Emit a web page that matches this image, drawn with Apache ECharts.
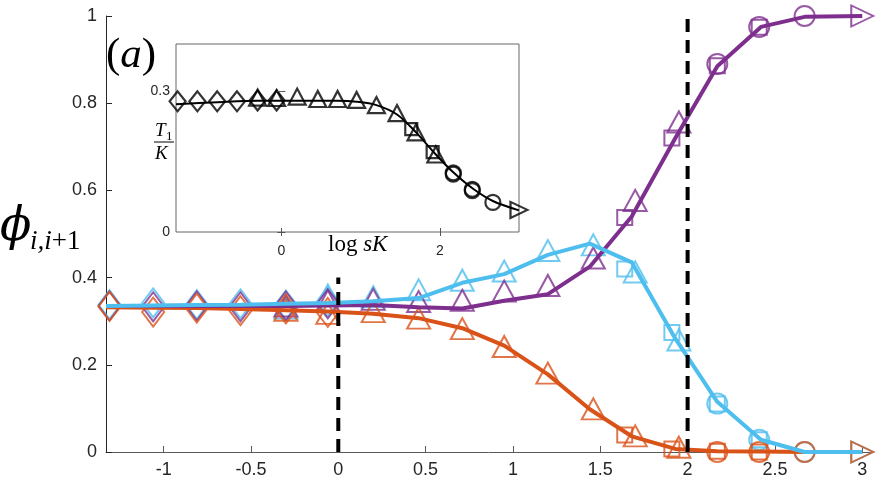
<!DOCTYPE html>
<html>
<head>
<meta charset="utf-8">
<script src="https://cdn.jsdelivr.net/npm/echarts@6/dist/echarts.min.js"></script>
<style>
  html, body { margin: 0; padding: 0; background: #fff; }
  #main { width: 884px; height: 486px; }
</style>
</head>
<body>
<div id="main"></div>
<script>
// x positions (log sK) of each marker family
const diamondX = [-1.31, -1.06, -0.81, -0.56, -0.30, -0.06];
const triangleX = [-0.30, -0.06, 0.20, 0.46, 0.71, 0.95, 1.20, 1.46, 1.70, 1.95];
const squareX = [1.64, 1.91, 2.17, 2.41];
const circleX = [2.17, 2.41, 2.67];
const endX = [3.0];
const lineX = [-1.33, -1.06, -0.81, -0.56, -0.30, -0.06, 0.20, 0.46, 0.71, 0.95, 1.20, 1.44, 1.68, 1.93, 2.17, 2.42, 2.67, 3.0];

// main panel: phi_{i,i+1}
const purpleLine = [0.335, 0.335, 0.335, 0.335, 0.335, 0.336, 0.337, 0.332, 0.329, 0.347, 0.362, 0.425, 0.54, 0.72, 0.885, 0.975, 0.998, 1.0];
const purpleDiamond = [0.335, 0.333, 0.335, 0.333, 0.335, 0.34];
const purpleTriangle = [0.335, 0.347, 0.35, 0.345, 0.348, 0.369, 0.382, 0.445, 0.577, 0.757];
const purpleSquare = [0.538, 0.72, 0.886, 0.974];
const purpleCircle = [0.89, 0.975, 1.0];
const purpleEnd = [1.0];

const blueLine = [0.335, 0.336, 0.337, 0.338, 0.34, 0.342, 0.346, 0.353, 0.388, 0.408, 0.452, 0.478, 0.435, 0.26, 0.115, 0.028, 0.0, 0.0];
const blueDiamond = [0.338, 0.342, 0.338, 0.34, 0.337, 0.345];
const blueTriangle = [0.33, 0.36, 0.356, 0.372, 0.394, 0.415, 0.462, 0.475, 0.413, 0.257];
const blueSquare = [0.42, 0.274, 0.11, 0.028];
const blueCircle = [0.111, 0.028, 0.0];
const blueEnd = [0.0];

const orangeLine = [0.332, 0.331, 0.33, 0.328, 0.325, 0.322, 0.317, 0.307, 0.284, 0.244, 0.178, 0.098, 0.036, 0.007, 0.002, 0.001, 0.0, 0.0];
const orangeDiamond = [0.334, 0.321, 0.33, 0.324, 0.328, 0.32];
const orangeTriangle = [0.325, 0.318, 0.322, 0.307, 0.283, 0.242, 0.181, 0.099, 0.037, 0.011];
const orangeSquare = [0.039, 0.007, 0.002, 0.0];
const orangeCircle = [0.0, 0.0, 0.0];
const orangeEnd = [0.0];

// dashed guide lines
const guideX = [0, 2];
const guideTop = [0.4, 1.0];

// inset: T1/K
const insetLineX = [-1.33, -0.81, -0.30, 0.20, 0.71, 0.95, 1.20, 1.46, 1.70, 1.95, 2.17, 2.42, 2.67, 3.0];
const insetLine = [0.272, 0.276, 0.279, 0.279, 0.279, 0.277, 0.27, 0.25, 0.212, 0.165, 0.127, 0.092, 0.066, 0.046];
const insetDiamond = [0.278, 0.278, 0.278, 0.278, 0.28, 0.28];
const insetTriangle = [0.286, 0.285, 0.288, 0.283, 0.283, 0.281, 0.27, 0.253, 0.212, 0.165];
const insetSquareX = [1.64, 1.91];
const insetSquare = [0.219, 0.17];
const insetCircle = [0.126, 0.091, 0.063];
const insetCircleB = [0.123, 0.088];
const insetEnd = [0.047];

// tick labels
const mainXTicks = [-1, -0.5, 0, 0.5, 1, 1.5, 2, 2.5, 3];
const insetXTicks = [0, 2];
const insetYTicks = [0, 0.3];

const PURPLE = '#7E2F8E', BLUE = '#4DBEEE', ORANGE = '#D95319';

function zip(xs, ys) { return xs.map((x, i) => [x, ys[i]]); }

function line(xs, ys, color, width, gi, z, smooth) {
  return {
    type: 'line', xAxisIndex: gi, yAxisIndex: gi, data: zip(xs, ys),
    symbol: 'none', showSymbol: false, smooth: smooth || false,
    lineStyle: { color: color, width: width }, z: z, silent: true
  };
}

function mark(xs, ys, symbol, size, color, gi, z, rotate, bw) {
  return {
    type: 'scatter', xAxisIndex: gi, yAxisIndex: gi, data: zip(xs, ys),
    symbol: symbol, symbolSize: size, symbolRotate: rotate || 0, clip: false,
    itemStyle: { color: 'rgba(0,0,0,0)', borderColor: color, borderWidth: bw || 2 },
    z: z, silent: true
  };
}

function family(col, d, t, s, c, e, z) {
  return [
    mark(diamondX, d, 'diamond', [22, 29], col, 0, z),
    mark(triangleX, t, 'triangle', [23, 21], col, 0, z),
    mark(squareX, s, 'rect', [15, 15], col, 0, z),
    mark(circleX, c, 'circle', [20, 20], col, 0, z),
    mark(endX, e, 'triangle', [21, 22], col, 0, z, -90)
  ];
}

const series = [].concat(
  family(BLUE, blueDiamond, blueTriangle, blueSquare, blueCircle, blueEnd, 2),
  family(PURPLE, purpleDiamond, purpleTriangle, purpleSquare, purpleCircle, purpleEnd, 3),
  family(ORANGE, orangeDiamond, orangeTriangle, orangeSquare, orangeCircle, orangeEnd, 4),
  [
    line(lineX, orangeLine, ORANGE, 4, 0, 5),
    line(lineX, purpleLine, PURPLE, 4, 0, 6),
    line(lineX, blueLine, BLUE, 4, 0, 7)
  ],
  guideX.map((x, i) => ({
    type: 'line', xAxisIndex: 0, yAxisIndex: 0, data: [[x, 0], [x, guideTop[i]]],
    symbol: 'none', lineStyle: { color: '#000', width: 4, type: [13, 8] }, z: 8, silent: true
  })),
  [
    line(insetLineX, insetLine, '#000', 2, 1, 10, 0.3),
    mark(diamondX, insetDiamond, 'diamond', [16, 20], '#000', 1, 11, 0, 2.2),
    mark(triangleX, insetTriangle, 'triangle', [17, 16], '#000', 1, 11, 0, 2.2),
    mark(insetSquareX, insetSquare, 'rect', [12, 12], '#000', 1, 11, 0, 2.2),
    mark(circleX, insetCircle, 'circle', [15, 15], '#000', 1, 11, 0, 2.2),
    mark(circleX.slice(0, 2), insetCircleB, 'circle', [15, 15], '#000', 1, 11, 0, 2.2),
    mark(endX, insetEnd, 'triangle', [16, 17], '#000', 1, 11, -90, 2.2)
  ]
);

const labelFont = { fontFamily: 'Liberation Sans', color: '#262626' };

const myChart = echarts.init(document.getElementById('main'), null, { renderer: 'canvas' });
myChart.setOption({
  animation: false,
  backgroundColor: '#fff',
  grid: [
    { left: 106, right: 13, top: 16, bottom: 34 },
    { left: 176, right: 365, top: 44, bottom: 254, show: true, backgroundColor: '#fff', borderColor: '#666', borderWidth: 1, z: 9 }
  ],
  xAxis: [
    {
      gridIndex: 0, type: 'value', min: -1.33, max: 3.05,
      axisLine: { show: true, lineStyle: { color: '#5a5a5a', width: 1 } },
      axisTick: { show: true, inside: true, length: 6, customValues: mainXTicks, lineStyle: { color: '#5a5a5a' } },
      axisLabel: Object.assign({ customValues: mainXTicks, fontSize: 18, margin: 9, formatter: v => String(v) }, labelFont),
      splitLine: { show: false }
    },
    {
      gridIndex: 1, type: 'value', min: -1.33, max: 3.0, position: 'bottom', z: 12,
      axisLine: { show: false },
      axisTick: { show: true, inside: true, length: 4, customValues: insetXTicks, lineStyle: { color: '#555' } },
      axisLabel: Object.assign({ customValues: insetXTicks, fontSize: 14, margin: 12, formatter: v => String(v) }, labelFont),
      splitLine: { show: false }
    },
    {
      gridIndex: 1, type: 'value', min: -1.33, max: 3.0, position: 'top', z: 12,
      axisLine: { show: false },
      axisTick: { show: true, inside: true, length: 4, customValues: insetXTicks, lineStyle: { color: '#555' } },
      axisLabel: { show: false },
      splitLine: { show: false }
    }
  ],
  yAxis: [
    {
      gridIndex: 0, type: 'value', min: 0, max: 1, interval: 0.2,
      axisLine: { show: true, onZero: false, lineStyle: { color: '#262626', width: 1 } },
      axisTick: { show: true, inside: true, length: 6, lineStyle: { color: '#262626' } },
      axisLabel: Object.assign({ fontSize: 18, margin: 9 }, labelFont),
      splitLine: { show: false }
    },
    {
      gridIndex: 1, type: 'value', min: 0, max: 0.4, position: 'left', z: 12,
      axisLine: { show: false },
      axisTick: { show: true, inside: true, length: 4, customValues: insetYTicks, lineStyle: { color: '#555' } },
      axisLabel: Object.assign({ customValues: insetYTicks, fontSize: 14, margin: 6, formatter: v => String(v) }, labelFont),
      splitLine: { show: false }
    },
    {
      gridIndex: 1, type: 'value', min: 0, max: 0.4, position: 'right', z: 12,
      axisLine: { show: false },
      axisTick: { show: true, inside: true, length: 4, customValues: insetYTicks, lineStyle: { color: '#555' } },
      axisLabel: { show: false },
      splitLine: { show: false }
    }
  ],
  graphic: [
    {
      type: 'text', x: 106, y: 34, z: 20,
      style: {
        text: '{p|(}{i|a}{p|)}',
        rich: {
          p: { fontFamily: 'Liberation Serif', fontSize: 43, fill: '#000' },
          i: { fontFamily: 'Liberation Serif', fontStyle: 'italic', fontSize: 43, fill: '#000' }
        }
      }
    },
    {
      type: 'text', x: 0, y: 205, z: 20,
      style: { text: 'ϕ', fontFamily: 'DejaVu Serif', fontStyle: 'italic', fontSize: 46, fill: '#000' }
    },
    {
      type: 'text', x: 30, y: 228, z: 20,
      style: {
        text: '{i|i,i}{u|+1}',
        rich: {
          i: { fontFamily: 'Liberation Serif', fontStyle: 'italic', fontSize: 27, fill: '#000' },
          u: { fontFamily: 'Liberation Serif', fontSize: 27, fill: '#000' }
        }
      }
    },
    {
      type: 'text', x: 155, y: 121, z: 20,
      style: { text: 'T', fontFamily: 'Liberation Serif', fontStyle: 'italic', fontSize: 19, fill: '#000' }
    },
    {
      type: 'text', x: 166, y: 130, z: 20,
      style: { text: '1', fontFamily: 'Liberation Serif', fontSize: 13, fill: '#000' }
    },
    {
      type: 'line', z: 20,
      shape: { x1: 154, y1: 142, x2: 174, y2: 142 },
      style: { stroke: '#000', lineWidth: 1 }
    },
    {
      type: 'text', x: 155, y: 144, z: 20,
      style: { text: 'K', fontFamily: 'Liberation Serif', fontStyle: 'italic', fontSize: 19, fill: '#000' }
    },
    {
      type: 'text', x: 328, y: 233, z: 20,
      style: {
        text: '{u|log }{i|sK}',
        rich: {
          u: { fontFamily: 'Liberation Serif', fontSize: 23, fill: '#000' },
          i: { fontFamily: 'Liberation Serif', fontStyle: 'italic', fontSize: 23, fill: '#000' }
        }
      }
    }
  ],
  series: series
});
</script>
</body>
</html>
